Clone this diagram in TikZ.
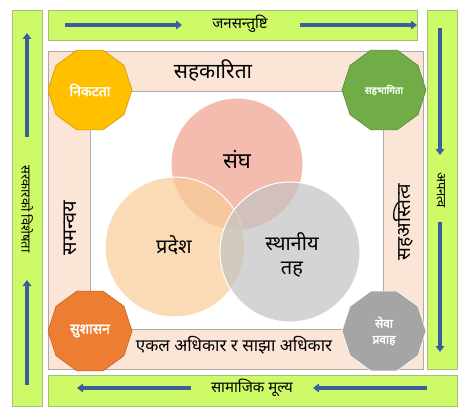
\documentclass[tikz,border=0pt]{standalone}
\usepackage{fontspec}
\newfontfamily\dev[Script=Devanagari, AutoFakeBold=2.5]{Noto Sans}
\usetikzlibrary{shapes.geometric,arrows.meta}
\definecolor{limeg}{RGB}{206,250,104}
\definecolor{limeb}{RGB}{165,190,120}
\definecolor{peach}{RGB}{251,229,214}
\definecolor{peachb}{RGB}{175,170,165}
\definecolor{flowblue}{RGB}{58,95,155}
\definecolor{csangh}{RGB}{238,160,140}
\definecolor{cpradesh}{RGB}{250,205,150}
\definecolor{clocal}{RGB}{195,195,195}
\definecolor{pgold}{RGB}{255,192,0}
\definecolor{pgreen}{RGB}{112,173,71}
\definecolor{porange}{RGB}{237,125,49}
\definecolor{pgray}{RGB}{165,165,165}
\tikzset{
  greenbar/.style={fill=limeg, draw=limeb, line width=0.8pt},
  strip/.style={fill=peach, draw=peachb, line width=0.6pt},
  flow/.style={draw=flowblue, line width=3.5pt, -{Triangle[length=6pt,width=8.5pt]}},
  ven/.style={circle, fill opacity=0.7, draw=white, line width=1pt, inner sep=0pt},
  poly/.style={regular polygon, regular polygon sides=10, minimum size=84pt, inner sep=0pt, line width=0.6pt, text=white, align=center},
  polytext/.style={font=\dev\bfseries\fontsize{#1}{16}\selectfont},
  dtext/.style={font=\dev\fontsize{#1}{#1}\selectfont, inner sep=0pt, align=center},
}
\begin{document}
\begin{tikzpicture}[x=1pt,y=-1pt]
\path[use as bounding box, fill=white] (0,0) rectangle (468,417);
% green bars
\draw[greenbar] (12,10) rectangle (42,406);
\draw[greenbar] (48,10) rectangle (417,40);
\draw[greenbar] (427,10) rectangle (457,369);
\draw[greenbar] (48,375) rectangle (457,406);
% peach frame
\draw[strip] (48,51) rectangle (423,91);
\draw[strip] (48,329) rectangle (423,369);
\draw[strip] (48,91) rectangle (90,329);
\draw[strip] (383,91) rectangle (423,329);
% venn circles
\node[ven, fill=csangh, minimum size=132pt] (sangh) at (237,164) {};
\node[ven, fill=cpradesh, minimum size=140pt] (pradesh) at (175,247) {};
\node[ven, fill=clocal, minimum size=140pt] (local) at (290,252) {};
\node[dtext=22] (sanghT) at (237,160) {संघ};
\node[dtext=20] (pradeshT) at (174,245) {प्रदेश};
\node[dtext=20] (localT) at (292,255) {स्थानीय\\[4pt]तह};
% polygons
\node[poly, polytext=14, fill=pgold, draw=pgold!80!black] (nikat) at (90,90) {निकटता};
\node[poly, polytext=10, fill=pgreen, draw=pgreen!80!black] (sahabhag) at (384,90) {सहभागिता};
\node[poly, polytext=14, fill=porange, draw=porange!80!black] (sushasan) at (90,331) {सुशासन};
\node[poly, polytext=12, fill=pgray, draw=white] (sewa) at (384,331) {सेवा\\प्रवाह};
% strip labels
\node[dtext=21] (sahakarita) at (213,71) {सहकारिता};
\node[dtext=17] (ekal) at (234,345) {एकल अधिकार र साझा अधिकार};
\node[dtext=20, rotate=90] (samanwaya) at (70,228) {समन्वय};
\node[dtext=19, rotate=90] (sahaastitwa) at (403,222) {सहअस्तित्व};
% bar labels
\node[dtext=15] (jana) at (240,24) {जनसन्तुष्टि};
\node[dtext=15] (samajik) at (252,388) {सामाजिक मूल्य};
\node[dtext=13, rotate=-90] (sarkar) at (27,209) {सरकारको विशेषता};
\node[dtext=13, rotate=-90] (apanatwa) at (441,190) {अपनत्व};
% flow arrows
\coordinate (ta1) at (65,25);   \coordinate (ta2) at (182,25);
\coordinate (tb1) at (300,25);  \coordinate (tb2) at (417,25);
\coordinate (ra1) at (440,28);  \coordinate (ra2) at (440,155);
\coordinate (rb1) at (440,222); \coordinate (rb2) at (440,352);
\coordinate (ba1) at (427,388); \coordinate (ba2) at (313,388);
\coordinate (bb1) at (191,388); \coordinate (bb2) at (77,388);
\coordinate (la1) at (27,385);  \coordinate (la2) at (27,280);
\coordinate (lb1) at (27,137);  \coordinate (lb2) at (27,33);
\draw[flow] (ta1) -- (ta2);
\draw[flow] (tb1) -- (tb2);
\draw[flow] (ra1) -- (ra2);
\draw[flow] (rb1) -- (rb2);
\draw[flow] (ba1) -- (ba2);
\draw[flow] (bb1) -- (bb2);
\draw[flow] (la1) -- (la2);
\draw[flow] (lb1) -- (lb2);
\end{tikzpicture}
\end{document}
